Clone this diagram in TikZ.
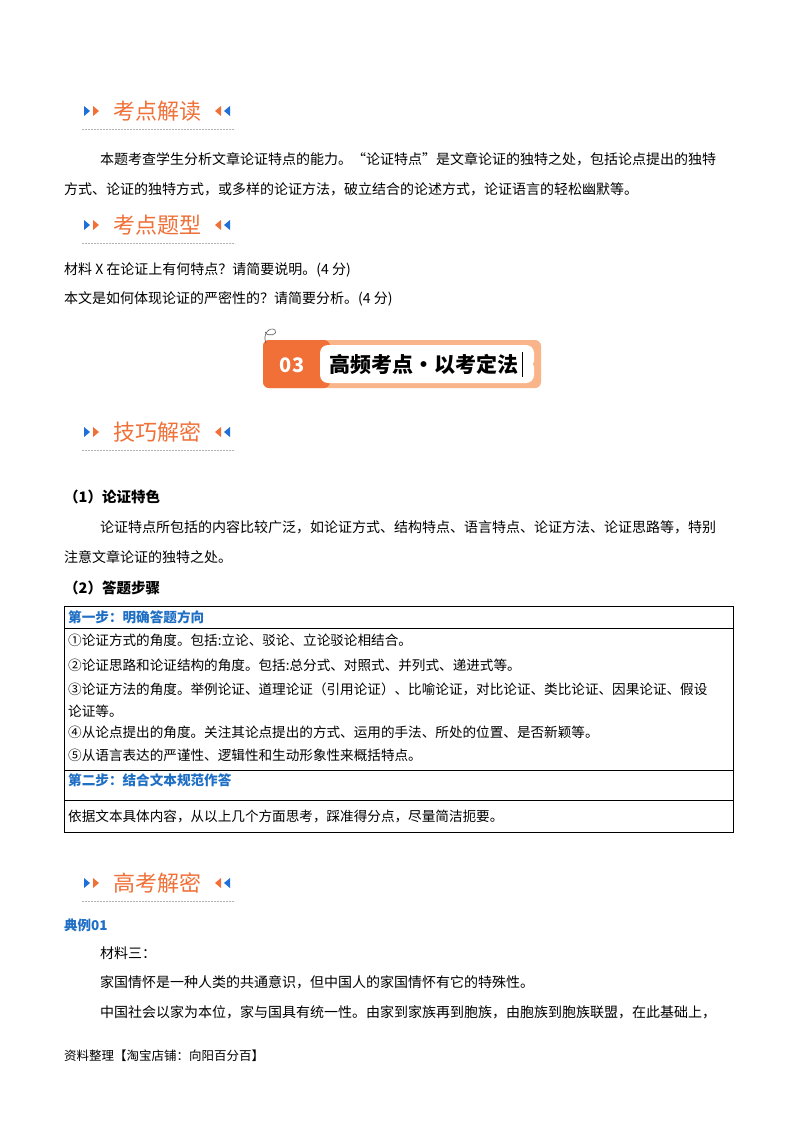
\documentclass[tikz,border=0pt]{standalone}
\usepackage{fontspec}
\setmainfont{Noto Sans CJK SC}
\definecolor{org}{HTML}{F07038}
\definecolor{lorg}{HTML}{F9B48A}
\definecolor{blu}{HTML}{1E6FD8}
\definecolor{tblu}{HTML}{1F6FC5}
\begin{document}
\begin{tikzpicture}[x=1pt,y=-1pt,
 txt/.style={anchor=west,inner sep=0pt,font=\fontsize{14}{15}\selectfont},
 hd/.style={anchor=west,inner sep=0pt,text=org,font=\fontsize{22}{23}\selectfont},
 bold/.style={anchor=west,inner sep=0pt,font=\fontsize{14.5}{15}\selectfont\bfseries},
 tb/.style={anchor=west,inner sep=0pt,font=\fontsize{13.6}{14}\selectfont}]
\useasboundingbox (0,0) rectangle (800,1132);
\fill[white] (0,0) rectangle (800,1132);
\newcommand\hdr[3]{%
 \fill[blu] (84,#1-5) -- (90,#1) -- (84,#1+5) -- cycle;
 \fill[org] (93,#1-5) -- (99,#1) -- (93,#1+5) -- cycle;
 \node[hd] (#3) at (113,#1) {#2};
 \fill[org] (221,#1-5) -- (215,#1) -- (221,#1+5) -- cycle;
 \fill[blu] (230,#1-5) -- (224,#1) -- (230,#1+5) -- cycle;
 \draw[gray!60,dash pattern=on 2pt off 1pt,line width=0.6pt] (82,#1+18) -- (235,#1+18);}
\hdr{111}{考点解读}{h1}
\node[txt] (p1) at (100,159) {本题考查学生分析文章论证特点的能力。“论证特点”是文章论证的独特之处，包括论点提出的独特};
\node[txt] (p2) at (64,189) {方式、论证的独特方式，或多样的论证方法，破立结合的论述方式，论证语言的轻松幽默等。};
\hdr{225}{考点题型}{h2}
\node[txt] (q1) at (64,270) {材料 X 在论证上有何特点？请简要说明。(4 分)};
\node[txt] (q2) at (64,299) {本文是如何体现论证的严密性的？请简要分析。(4 分)};
% banner
\fill[lorg,rounded corners=6pt] (263,340) rectangle (541,388);
\fill[org,rounded corners=6pt] (263,340) -- (263,388) -- (330,388) -- (330,340) -- cycle;
\fill[white,rounded corners=8pt] (320,345) rectangle (534,383);
\fill[lorg] (536,364) circle (3);
\node[anchor=center,text=white,font=\fontsize{20}{20}\selectfont\bfseries] (n03) at (292,365) {03};
\node[anchor=west,inner sep=0pt,font=\fontsize{21}{22}\selectfont\bfseries] (bt) at (329,364) {高频考点·以考定法};
\draw[black,line width=0.8pt] (522,352) -- (522,377);
\draw[gray!70!black,line width=0.6pt] (266,343) .. controls (262,334) and (270,326) .. (275,330) .. controls (279,334) and (268,338) .. (265,332);
\hdr{432}{技巧解密}{h3}
\node[bold] (s1) at (64,497) {（1）论证特色};
\node[txt] (p3) at (100,527) {论证特点所包括的内容比较广泛，如论证方式、结构特点、语言特点、论证方法、论证思路等，特别};
\node[txt] (p4) at (64,557) {注意文章论证的独特之处。};
\node[bold] (s2) at (64,588) {（2）答题步骤};
% table
\draw[line width=0.7pt] (64,606) rectangle (733,832);
\draw[line width=0.5pt] (64,628) -- (733,628);
\draw[line width=0.7pt] (64,770) -- (733,770);
\draw[line width=0.5pt] (64,800) -- (733,800);
\node[tb,text=tblu,font=\fontsize{13.6}{14}\selectfont\bfseries] (t1) at (68,617) {第一步：明确答题方向};
\node[tb] (r1) at (68,640) {①论证方式的角度。包括:立论、驳论、立论驳论相结合。};
\node[tb] (r2) at (68,665) {②论证思路和论证结构的角度。包括:总分式、对照式、并列式、递进式等。};
\node[tb] (r3) at (68,689) {③论证方法的角度。举例论证、道理论证（引用论证）、比喻论证，对比论证、类比论证、因果论证、假设};
\node[tb] (r3b) at (68,711) {论证等。};
\node[tb] (r4) at (68,732) {④从论点提出的角度。关注其论点提出的方式、运用的手法、所处的位置、是否新颖等。};
\node[tb] (r5) at (68,755) {⑤从语言表达的严谨性、逻辑性和生动形象性来概括特点。};
\node[tb,text=tblu,font=\fontsize{13.6}{14}\selectfont\bfseries] (t2) at (68,780) {第二步：结合文本规范作答};
\node[tb] (r6) at (68,816) {依据文本具体内容，从以上几个方面思考，踩准得分点，尽量简洁扼要。};
\hdr{883}{高考解密}{h4}
\node[bold,text=tblu,font=\fontsize{13.5}{14}\selectfont\bfseries] (ex) at (64,925) {典例01};
\node[txt] (m1) at (100,953) {材料三：};
\node[txt] (m2) at (100,982) {家国情怀是一种人类的共通意识，但中国人的家国情怀有它的特殊性。};
\node[txt] (m3) at (100,1012) {中国社会以家为本位，家与国具有统一性。由家到家族再到胞族，由胞族到胞族联盟，在此基础上，};
\node[anchor=west,inner sep=0pt,font=\fontsize{12.5}{13}\selectfont] (ft) at (64,1056) {资料整理【淘宝店铺：向阳百分百】};
\end{tikzpicture}
\end{document}
